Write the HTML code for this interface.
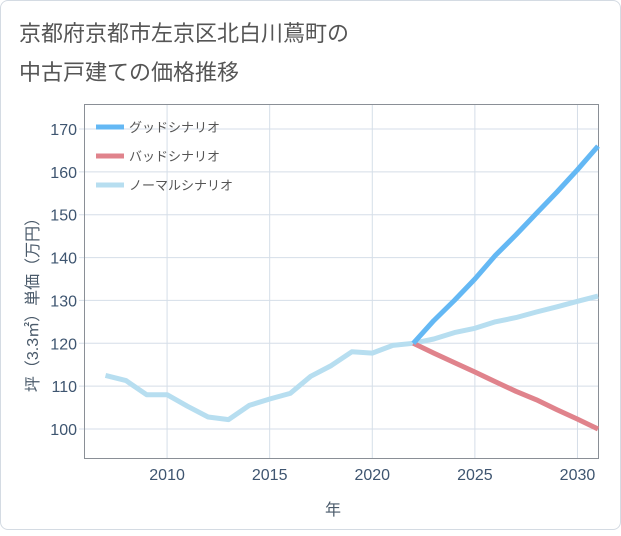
<!DOCTYPE html>
<html><head><meta charset="utf-8"><style>
body{margin:0;background:#fff;}
#card{position:absolute;left:0;top:0;width:619px;height:528px;border:1px solid #d4dbe3;border-radius:8px;background:#fff;}
svg text{font-family:"Liberation Sans","Noto Sans CJK JP",sans-serif;}
</style></head><body>
<div id="card">
<svg width="621" height="530" id="chart">
<text x="18" y="40" font-size="22" fill="#555">京都府京都市左京区北白川蔦町の</text>
<text x="18" y="79" font-size="22" fill="#555">中古戸建ての価格推移</text>
<g id="grid"></g>
<rect x="83.5" y="103.5" width="514" height="354" fill="none" stroke="#8a8f96" stroke-width="1"/>
<g id="series"></g>
<g id="axes"></g>
<text x="332" y="514" font-size="16" fill="#4a5a6a" text-anchor="middle">年</text>
<text transform="translate(37,300) rotate(-90)" font-size="16" fill="#4a5a6a" text-anchor="middle">坪（3.3㎡）単価（万円）</text>
<g id="legend"></g>
</svg>
</div>
<script>
const years=[2007,2008,2009,2010,2011,2012,2013,2014,2015,2016,2017,2018,2019,2020,2021,2022,2023,2024,2025,2026,2027,2028,2029,2030,2031];
const normalValues=[112.5,111.3,108,108,105.3,102.8,102.2,105.5,107,108.3,112.3,114.8,118,117.7,119.5,120,121,122.5,123.5,125,126,127.3,128.5,129.8,131];
const futureYears=[2022,2023,2024,2025,2026,2027,2028,2029,2030,2031];
const goodValues=[120,125.3,130,135,140.5,145.3,150.3,155.3,160.5,166];
const badValues=[120,117.7,115.5,113.3,111,108.8,106.8,104.5,102.3,100];
const xTicks=[2010,2015,2020,2025,2030];
const yTicks=[100,110,120,130,140,150,160,170];
const seriesNames=["グッドシナリオ","バッドシナリオ","ノーマルシナリオ"];
const NS="http://www.w3.org/2000/svg";
const X0=84,X1=597,Y0=104,Y1=457;
const xMin=2006,xMax=2031,yMin=93.23,yMax=175.6;
function sx(v){return X0+(v-xMin)/(xMax-xMin)*(X1-X0);}
function sy(v){return Y1-(v-yMin)/(yMax-yMin)*(Y1-Y0);}
function mk(t,a,p){const e=document.createElementNS(NS,t);for(const k in a)e.setAttribute(k,a[k]);p.appendChild(e);return e;}
const grid=document.getElementById('grid'),axes=document.getElementById('axes'),ser=document.getElementById('series'),leg=document.getElementById('legend');
xTicks.forEach(t=>{
 const l=mk('line',{x1:sx(t),x2:sx(t),y1:Y0,y2:Y1,stroke:'#d5dee8','stroke-width':1},grid);
 
 
 const tx=mk('text',{x:sx(t),y:Y1+22,'font-size':16,fill:'#3e5570','text-anchor':'middle'},axes);
 tx.textContent=t;
 
 
});
yTicks.forEach(t=>{
 const l=mk('line',{x1:X0-6,x2:X1,y1:sy(t),y2:sy(t),stroke:'#d5dee8','stroke-width':1},grid);
 
 
 const tx=mk('text',{x:X0-8,y:sy(t)+6,'font-size':16,fill:'#3e5570','text-anchor':'end'},axes);
 tx.textContent=t;
 
 
});
function path(xs,ys){return xs.map((x,i)=>(i?'L':'M')+sx(x).toFixed(1)+','+sy(ys[i]).toFixed(1)).join('');}
const colors=['#64b8f4','#e0838c','#b7def0'];
const n=mk('path',{d:path(years,normalValues),fill:'none',stroke:colors[2],'stroke-width':5,'stroke-linejoin':'round'},ser);


const b=mk('path',{d:path(futureYears,badValues),fill:'none',stroke:colors[1],'stroke-width':5,'stroke-linejoin':'round'},ser);


const g=mk('path',{d:path(futureYears,goodValues),fill:'none',stroke:colors[0],'stroke-width':5,'stroke-linejoin':'round'},ser);


seriesNames.forEach((nm,i)=>{
 const y=126+i*29;
 const l=mk('line',{x1:95,x2:123,y1:y,y2:y,stroke:colors[i],'stroke-width':5},leg);
 
 
 const t=mk('text',{x:128,y:y+5,'font-size':13,fill:'#555'},leg);
 t.textContent=nm;
 
 
});
</script>
</body></html>
